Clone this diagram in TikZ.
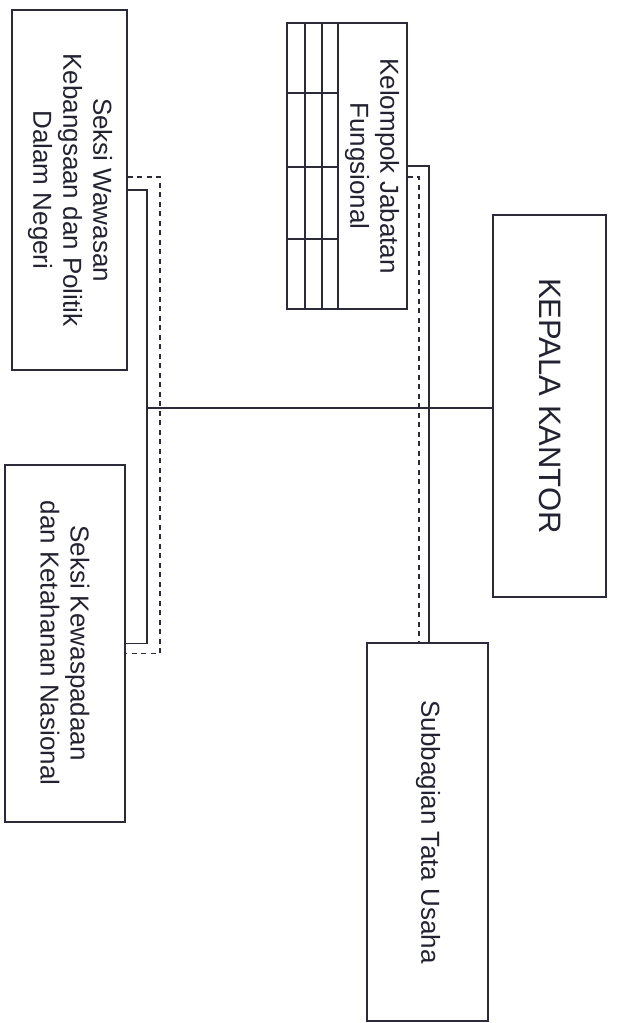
\documentclass[tikz,border=0pt]{standalone}
\usepackage{fontspec}
\setmainfont{Liberation Sans}
\definecolor{ink}{RGB}{42,42,56}
\definecolor{txt}{RGB}{34,34,48}
\begin{document}
\begin{tikzpicture}[x=1pt,y=-1pt,
  box/.style={draw=ink,line width=1.6pt,rectangle,inner sep=0pt},
  lbl/.style={text=txt,rotate=-90,align=center,inner sep=0pt,font=\fontsize{26}{30}\selectfont},
  link/.style={draw=ink,line width=1.7pt},
  dlink/.style={draw=ink,line width=1.7pt,dash pattern=on 5pt off 4.5pt}]
\fill[white] (0,0) rectangle (616,1023);
\useasboundingbox (0,0) rectangle (616,1023);
% boxes
\node[box,minimum width=115pt,minimum height=360pt] (w1) at (69.5,190) {};
\node[box,minimum width=120pt,minimum height=357pt] (w2) at (65,643.5) {};
\node[box,minimum width=120pt,minimum height=286pt] (kj) at (347,166) {};
\node[box,minimum width=113pt,minimum height=382pt] (kk) at (549.5,406) {};
\node[box,minimum width=121pt,minimum height=378pt] (su) at (427.5,832) {};
% grid in Kelompok box
\foreach \x in {305,322,338} \draw[ink,line width=1.5pt] (\x,23) -- (\x,309);
\foreach \y in {93,167,239} \draw[ink,line width=1.5pt] (287,\y) -- (338,\y);
% labels
\node[lbl] (t1) at (70,190) {Seksi Wawasan\\Kebangsaan dan Politik\\Dalam Negeri};
\node[lbl] (t2) at (65,643) {Seksi Kewaspadaan\\dan Ketahanan Nasional};
\node[lbl] (t3) at (372,166) {Kelompok Jabatan\\Fungsional};
\node[lbl,font=\fontsize{31}{36}\selectfont] (t4) at (550,406) {KEPALA KANTOR};
\node[lbl] (t5) at (428,832) {Subbagian Tata Usaha};
% junction coordinates
\coordinate (ls) at (147,408);
\coordinate (ld) at (160,408);
\coordinate (rs) at (429,408);
\coordinate (rd) at (419,408);
% connectors
\draw[link] (ls) -- (ls -| kk.west);
\draw[link] (w1.east) -| (ls) |- (w2.east);
\draw[dlink] ([yshift=13pt]w1.east) -| (ld) |- ([yshift=-10pt]w2.east);
\draw[link] (kj.east) -| (rs) -- (rs |- su.north);
\draw[dlink] ([yshift=-11pt]kj.east) -| (rd) -- (rd |- su.north);
\end{tikzpicture}
\end{document}
